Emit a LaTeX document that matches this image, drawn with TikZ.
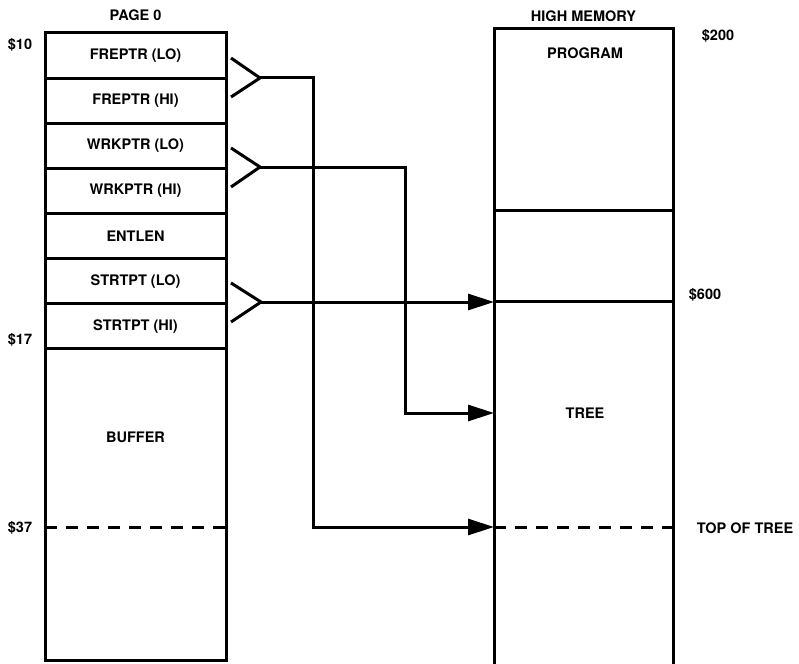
\documentclass[tikz,border=0pt]{standalone}
\usepackage{fontspec}
\setmainfont{TeX Gyre Heros}
\usetikzlibrary{positioning,arrows.meta}
\tikzset{
    mem/.style={line width=3pt},
    cell/.style={draw, mem, minimum width=181pt, minimum height=45.14pt, inner sep=0pt, outer sep=0pt},
    lbl/.style={font=\fontsize{14.5}{16}\selectfont\bfseries, inner sep=1pt},
    ptr/.style={mem, line join=miter},
    conn/.style={mem, -{Triangle[length=26pt,width=16pt]}},
    cut/.style={mem, dash pattern=on 12pt off 9pt}
}

\begin{document}
\begin{tikzpicture}[x=1pt,y=-1pt]
    \useasboundingbox (0,0) rectangle (799,663);
    % page 0 cells
    \foreach \txt [count=\i] in {{FREPTR (LO)},{FREPTR (HI)},{WRKPTR (LO)},{WRKPTR (HI)},{ENTLEN},{STRTPT (LO)},{STRTPT (HI)}}
        \node[cell, lbl] (c\i) at (135.5, {10.43+45.14*\i}) {\txt};
    \node[cell, minimum height=312pt, anchor=north] (buf) at (c7.south) {};
    \node[lbl] (buflbl) at (135.5,437) {BUFFER};
    \node[lbl, above=11pt of c1] (pg) {PAGE 0};
    \node[lbl] (a10) at (20,45) {\$10};
    \node[lbl] (a17) at (20,340) {\$17};
    \node[lbl] (a37) at (20,528) {\$37};
    % high memory
    \node[cell, minimum width=179pt, minimum height=181pt, anchor=north west] (prog) at (494,29) {};
    \node[cell, minimum width=179pt, minimum height=91pt, anchor=north] (gap) at (prog.south) {};
    \draw[mem] (gap.south west) -- ++(0,364);
    \draw[mem] (gap.south east) -- ++(0,364);
    \node[lbl] (proglbl) at (585,53) {PROGRAM};
    \node[lbl, above=6pt of prog] (hm) {HIGH MEMORY};
    \node[lbl] (a200) at (718,36) {\$200};
    \node[lbl] (a600) at (705,295) {\$600};
    \node[lbl] (treelbl) at (585,413) {TREE};
    \node[lbl] (toplbl) at (745,528) {TOP OF TREE};
    % pointer brackets
    \coordinate (k1) at (260,78);
    \coordinate (k2) at (260,167);
    \coordinate (k3) at (261,302);
    \draw[ptr] (231,58) -- (k1) -- (231,97);
    \draw[ptr] (231,148) -- (k2) -- (231,187);
    \draw[ptr] (231,283) -- (k3) -- (231,322);
    % connectors
    \coordinate (b1) at (313,527);
    \coordinate (tot) at (494,527);
    \coordinate (b2) at (405,413);
    \coordinate (tr) at (494,413);
    \coordinate (s600) at (494,302);
    \draw[conn] (k1) -| (b1) -- (tot);
    \draw[conn] (k2) -| (b2) -- (tr);
    \draw[conn] (k3) -- (s600);
    % dashed limits
    \draw[cut] (b1 -| buf.west) -- (b1 -| buf.east);
    \draw[cut] (tot) -- (tot -| gap.east);
\end{tikzpicture}
\end{document}
